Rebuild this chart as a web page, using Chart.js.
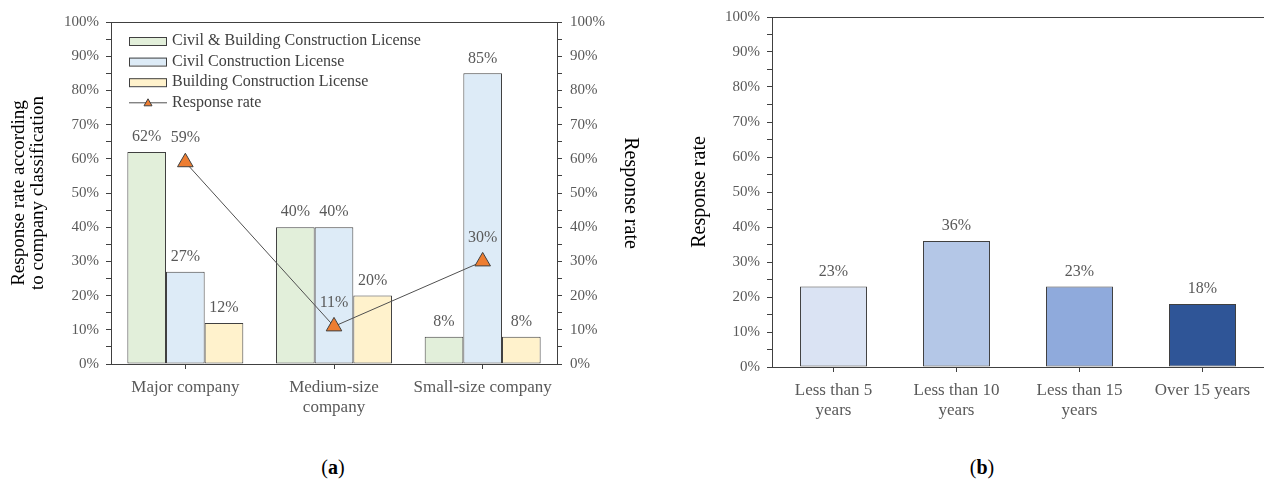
<!DOCTYPE html>
<html>
<head>
<meta charset="utf-8">
<title>Response rate</title>
<script src="https://cdn.jsdelivr.net/npm/chart.js@4.4.1/dist/chart.umd.min.js"></script>
<style>
  body { margin: 0; background: #fff; width: 1264px; height: 481px; overflow: hidden; position: relative;
         font-family: 'Liberation Serif', 'Times New Roman', serif; }
  #chartA { position: absolute; left: 0; top: 0; }
  #chartB { position: absolute; left: 680px; top: 0; }
  .caption { position: absolute; top: 455px; font-size: 20px; color: #000; transform: translateX(-50%); line-height: 24px; }
</style>
</head>
<body>
<canvas id="chartA" width="660" height="440"></canvas>
<canvas id="chartB" width="584" height="440"></canvas>
<div class="caption" style="left:333px">(<b>a</b>)</div>
<div class="caption" style="left:982px">(<b>b</b>)</div>

<script>
// (a) response rate by company classification and license type
const companyLabels = ['Major company', ['Medium-size', 'company'], 'Small-size company'];
const civilBuildingLicense = [62, 40, 8];
const civilLicense = [27, 40, 85];
const buildingLicense = [12, 20, 8];
const responseRate = [59, 11, 30];

// (b) response rate by years in business
const careerLabels = [['Less than 5', 'years'], ['Less than 10', 'years'], ['Less than 15', 'years'], 'Over 15 years'];
const careerResponseRate = [23, 36, 23, 18];

const SERIF = "'Liberation Serif', 'Times New Roman', serif";
const AXIS_COLOR = '#404040';
const TEXT_GRAY = '#595959';

Chart.defaults.font.family = SERIF;
Chart.defaults.color = TEXT_GRAY;
Chart.defaults.animation = false;

// percent labels above bars and line points
const valueLabels = {
    id: 'valueLabels',
    afterDatasetsDraw(chart) {
        const ctx = chart.ctx;
        ctx.save();
        ctx.font = '16px ' + SERIF;
        ctx.fillStyle = TEXT_GRAY;
        ctx.textAlign = 'center';
        ctx.textBaseline = 'middle';
        chart.data.datasets.forEach((ds, i) => {
            const meta = chart.getDatasetMeta(i);
            const lift = meta.type === 'line' ? 24 : 15;
            meta.data.forEach((el, j) => {
                ctx.fillText(ds.data[j] + '%', el.x, el.y - lift);
            });
        });
        ctx.restore();
    }
};

// legend drawn inside the plot, top-left corner
const innerLegend = {
    id: 'innerLegend',
    afterDraw(chart) {
        const ctx = chart.ctx;
        const area = chart.chartArea;
        const x0 = area.left + 18;
        let y = area.top + 19;
        ctx.save();
        ctx.font = '16px ' + SERIF;
        ctx.textBaseline = 'middle';
        chart.data.datasets.forEach(ds => {
            if (ds.type === 'line') {
                ctx.strokeStyle = ds.borderColor;
                ctx.lineWidth = 1;
                ctx.beginPath();
                ctx.moveTo(x0, y);
                ctx.lineTo(x0 + 38, y);
                ctx.stroke();
                ctx.fillStyle = ds.pointBackgroundColor;
                ctx.strokeStyle = ds.pointBorderColor;
                ctx.beginPath();
                ctx.moveTo(x0 + 19, y - 4);
                ctx.lineTo(x0 + 23, y + 3);
                ctx.lineTo(x0 + 15, y + 3);
                ctx.closePath();
                ctx.fill();
                ctx.stroke();
            } else {
                ctx.fillStyle = ds.backgroundColor;
                ctx.fillRect(x0, y - 4, 38, 8);
                ctx.strokeStyle = ds.borderColor;
                ctx.lineWidth = 1;
                ctx.strokeRect(x0 + 0.5, y - 3.5, 37, 8);
            }
            ctx.fillStyle = AXIS_COLOR;
            ctx.fillText(ds.label, x0 + 43, y);
            y += 20.6;
        });
        ctx.restore();
    }
};

function percentTicks(pad) {
    return {
        stepSize: 5,
        autoSkip: false,
        padding: pad,
        color: TEXT_GRAY,
        font: { size: 15 },
        callback: v => (v % 10 === 0 ? v + '%' : '')
    };
}

// top frame line at 100%, tick marks outside only
const frameGrid = {
    drawOnChartArea: true,
    tickLength: 5,
    tickColor: AXIS_COLOR,
    color: c => (c.tick && c.tick.value === 100 ? AXIS_COLOR : 'rgba(0,0,0,0)')
};

const barBase = { borderColor: AXIS_COLOR, borderWidth: 1, borderSkipped: false };

new Chart(document.getElementById('chartA'), {
    type: 'bar',
    data: {
        labels: companyLabels,
        datasets: [
            Object.assign({ label: 'Civil & Building Construction License', data: civilBuildingLicense, backgroundColor: '#E2EFDA', order: 1 }, barBase),
            Object.assign({ label: 'Civil Construction License', data: civilLicense, backgroundColor: '#DDEBF7', order: 1 }, barBase),
            Object.assign({ label: 'Building Construction License', data: buildingLicense, backgroundColor: '#FFF2CC', order: 1 }, barBase),
            {
                type: 'line',
                label: 'Response rate',
                data: responseRate,
                yAxisID: 'y2',
                order: 0,
                borderColor: '#505050',
                borderWidth: 1,
                pointStyle: 'triangle',
                pointRadius: 9,
                pointBackgroundColor: '#ED7D31',
                pointBorderColor: AXIS_COLOR,
                pointBorderWidth: 1
            }
        ]
    },
    options: {
        responsive: false,
        devicePixelRatio: 1,
        categoryPercentage: 0.78,
        barPercentage: 1,
        layout: { padding: { top: 22, left: 0, right: 0, bottom: 0 } },
        plugins: { legend: { display: false }, tooltip: { enabled: false } },
        scales: {
            x: {
                border: { color: AXIS_COLOR, width: 1 },
                grid: { offset: false, drawOnChartArea: false, tickLength: 5, tickColor: AXIS_COLOR },
                ticks: { padding: 8, color: TEXT_GRAY, font: { size: 17, lineHeight: 1.2 }, maxRotation: 0 },
                afterFit: s => { s.height = 76; }
            },
            y: {
                position: 'left',
                min: 0,
                max: 100,
                border: { color: AXIS_COLOR, width: 1 },
                grid: frameGrid,
                ticks: percentTicks(7),
                title: {
                    display: true,
                    text: ['Response rate according', 'to company classification'],
                    color: '#000',
                    font: { size: 19, lineHeight: 1.0 },
                    padding: { top: 9.5, bottom: 0 }
                },
                afterFit: s => { s.width = 111; }
            },
            y2: {
                position: 'right',
                min: 0,
                max: 100,
                border: { color: AXIS_COLOR, width: 1 },
                grid: { drawOnChartArea: false, tickLength: 5, tickColor: AXIS_COLOR },
                ticks: percentTicks(8),
                title: {
                    display: true,
                    text: 'Response rate',
                    color: '#000',
                    font: { size: 20, lineHeight: 1.0 },
                    padding: { top: 20, bottom: 0 }
                },
                afterFit: s => { s.width = 103; }
            }
        }
    },
    plugins: [valueLabels, innerLegend]
});

new Chart(document.getElementById('chartB'), {
    type: 'bar',
    data: {
        labels: careerLabels,
        datasets: [
            Object.assign({
                label: 'Response rate',
                data: careerResponseRate,
                backgroundColor: ['#DAE3F3', '#B4C7E7', '#8FAADC', '#2F5597']
            }, barBase)
        ]
    },
    options: {
        responsive: false,
        devicePixelRatio: 1,
        categoryPercentage: 1,
        barPercentage: 0.545,
        layout: { padding: { top: 17, left: 0, right: 0, bottom: 0 } },
        plugins: { legend: { display: false }, tooltip: { enabled: false } },
        scales: {
            x: {
                border: { color: AXIS_COLOR, width: 1 },
                grid: { offset: false, drawOnChartArea: false, tickLength: 5, tickColor: AXIS_COLOR },
                ticks: { padding: 8, color: TEXT_GRAY, font: { size: 17, lineHeight: 1.2 }, maxRotation: 0 },
                afterFit: s => { s.height = 73; }
            },
            y: {
                position: 'left',
                min: 0,
                max: 100,
                border: { color: AXIS_COLOR, width: 1 },
                grid: frameGrid,
                ticks: percentTicks(7),
                title: {
                    display: true,
                    text: 'Response rate',
                    color: '#000',
                    font: { size: 20, lineHeight: 1.0 },
                    padding: { top: 10, bottom: 0 }
                },
                afterFit: s => { s.width = 92; }
            }
        }
    },
    plugins: [valueLabels]
});
</script>
</body>
</html>
